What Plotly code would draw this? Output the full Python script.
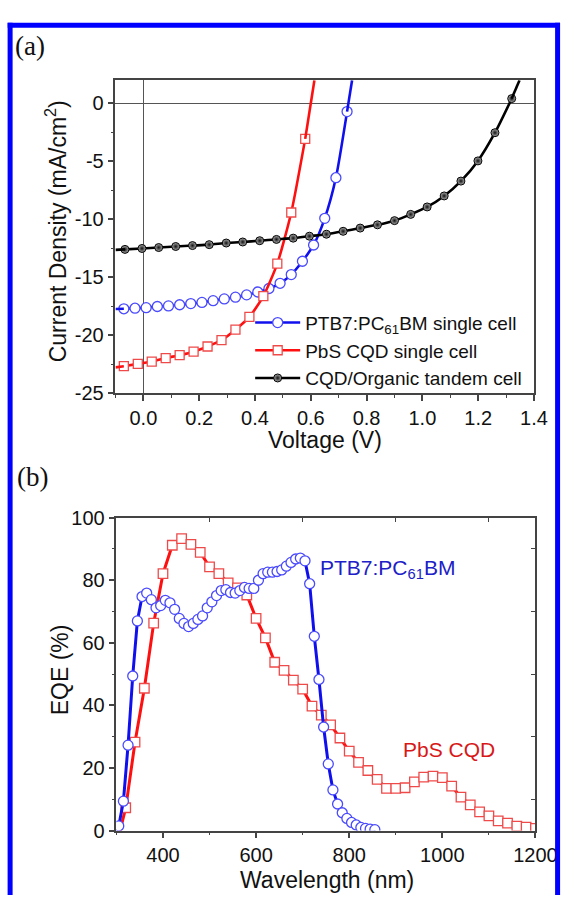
import plotly.graph_objects as go

# ---------------- Panel (a): J-V data ----------------
ptb7_v = [-0.07, -0.03, 0.01, 0.05, 0.09, 0.13, 0.17, 0.21, 0.25, 0.29, 0.33,
          0.37, 0.41, 0.45, 0.49, 0.53, 0.57, 0.61, 0.65, 0.69, 0.73]
ptb7_j = [-17.7, -17.65, -17.6, -17.5, -17.45, -17.35, -17.25, -17.15, -17.0, -16.85, -16.7,
          -16.5, -16.25, -15.95, -15.5, -14.75, -13.6, -12.2, -9.9, -6.4, -0.7]
ptb7_ext_v = [-0.1, -0.07, None, 0.73, 0.748]
ptb7_ext_j = [-17.72, -17.7, None, -0.7, 2.0]

pbs_v = [-0.07, -0.02, 0.03, 0.08, 0.13, 0.18, 0.23, 0.28, 0.33, 0.38, 0.43, 0.48, 0.53, 0.58]
pbs_j = [-22.65, -22.45, -22.25, -21.95, -21.7, -21.4, -20.95, -20.4, -19.5, -18.4, -16.6,
         -13.8, -9.4, -3.05]
pbs_ext_v = [-0.1, -0.07, None, 0.58, 0.613]
pbs_ext_j = [-22.75, -22.65, None, -3.05, 2.0]

tandem_v = [-0.066, -0.005, 0.055, 0.116, 0.176, 0.236, 0.297, 0.356, 0.417, 0.477, 0.537,
            0.595, 0.656, 0.716, 0.777, 0.839, 0.90, 0.958, 1.017, 1.078, 1.138, 1.199, 1.26, 1.32]
tandem_j = [-12.58, -12.5, -12.42, -12.33, -12.25, -12.17, -12.03, -11.94, -11.83, -11.72, -11.61,
            -11.44, -11.27, -11.02, -10.74, -10.46, -10.1, -9.56, -8.92, -7.97, -6.69, -4.95, -2.52, 0.42]
tandem_ext_v = [-0.1, -0.066, None, 1.32, 1.348]
tandem_ext_j = [-12.62, -12.58, None, 0.42, 2.0]

# ---------------- Panel (b): EQE data ----------------
eqe_ptb7_wl = [305 + 10 * i for i in range(56)]
eqe_ptb7 = [1.5, 9.4, 27.3, 49.4, 67.0, 74.8, 75.9, 73.8, 71.2, 71.9,
            73.6, 72.8, 70.7, 67.8, 66.2, 65.2, 66.2, 67.5, 68.6, 71.2,
            73.1, 75.1, 76.7, 77.0, 76.1, 75.9, 76.7, 77.7, 77.4, 77.4,
            80.0, 82.1, 82.6, 82.6, 82.8, 83.3, 84.5, 85.7, 86.8, 87.1,
            86.2, 78.9, 62.1, 48.3, 33.1, 21.3, 13.0, 8.5, 5.7, 3.9,
            2.6, 1.8, 1.0, 0.7, 0.5, 0.3]

eqe_pbs_wl = [320 + 20 * i for i in range(45)]
eqe_pbs = [7.3, 28.3, 45.5, 66.3, 82.1, 91.2, 93.3, 91.5, 88.9, 84.3,
           82.1, 79.2, 77.6, 75.3, 67.8, 61.6, 53.8, 51.2, 48.1, 45.2,
           39.8, 36.9, 33.8, 29.6, 25.4, 21.8, 19.2, 16.4, 13.5, 13.5,
           13.7, 15.6, 17.1, 17.4, 16.9, 14.2, 10.7, 8.2, 6.0, 4.7,
           3.1, 2.4, 1.4, 1.1, 0.7]
eqe_pbs_ext_wl = [308, 320]
eqe_pbs_ext = [0.0, 7.3]

# ---------------- Text ----------------
legend_names = ["PTB7:PC<sub>61</sub>BM single cell", "PbS CQD single cell", "CQD/Organic tandem cell"]
xa_ticks = [0.0, 0.2, 0.4, 0.6, 0.8, 1.0, 1.2, 1.4]
ya_ticks = [-25, -20, -15, -10, -5, 0]
xb_ticks = [400, 600, 800, 1000, 1200]
yb_ticks = [0, 20, 40, 60, 80, 100]
xb_top_minor = [500, 700, 900, 1100]
yb_right_minor = [10, 30, 50, 70, 90]

W, H = 582, 906
SANS = "Liberation Sans, Arial, sans-serif"
SERIF = "Liberation Serif, Times New Roman, serif"
AX = "#444444"
BLUE = "#1010ee"
BLUE_M = "#4a4aff"
RED = "#ff1010"
RED_M = "#ee4a4a"


def px(x):
    return x / W


def py(y):
    return 1 - y / H


fig = go.Figure()

# Panel (a)
fig.add_trace(go.Scatter(x=ptb7_v, y=ptb7_j, mode="lines+markers", name=legend_names[0],
                         line=dict(color=BLUE, width=2.6, shape="spline", smoothing=0.6),
                         marker=dict(symbol="circle", size=10, color="white",
                                     line=dict(color=BLUE_M, width=1.3)),
                         xaxis="x", yaxis="y"))
fig.add_trace(go.Scatter(x=pbs_v, y=pbs_j, mode="lines+markers", name=legend_names[1],
                         line=dict(color=RED, width=2.6, shape="spline", smoothing=0.6),
                         marker=dict(symbol="square", size=9, color="white",
                                     line=dict(color=RED_M, width=1.3)),
                         xaxis="x", yaxis="y"))
fig.add_trace(go.Scatter(x=tandem_v, y=tandem_j, mode="lines+markers", name=legend_names[2],
                         line=dict(color="black", width=2.6, shape="spline", smoothing=0.6),
                         marker=dict(symbol="circle", size=8, color="#b0b0b0",
                                     gradient=dict(type="radial", color="#111111"),
                                     line=dict(color="black", width=1)),
                         xaxis="x", yaxis="y"))
for xs, ys, c in [(ptb7_ext_v, ptb7_ext_j, BLUE), (pbs_ext_v, pbs_ext_j, RED),
                  (tandem_ext_v, tandem_ext_j, "black")]:
    fig.add_trace(go.Scatter(x=xs, y=ys, mode="lines", showlegend=False,
                             line=dict(color=c, width=2.6), xaxis="x", yaxis="y"))

# Panel (b)
fig.add_trace(go.Scatter(x=eqe_pbs_ext_wl, y=eqe_pbs_ext, mode="lines", showlegend=False,
                         line=dict(color=RED, width=3), xaxis="x2", yaxis="y2"))
fig.add_trace(go.Scatter(x=eqe_pbs_wl, y=eqe_pbs, mode="lines+markers", showlegend=False,
                         line=dict(color=RED, width=3),
                         marker=dict(symbol="square", size=9.5, color="white",
                                     line=dict(color=RED_M, width=1.3)),
                         xaxis="x2", yaxis="y2"))
fig.add_trace(go.Scatter(x=eqe_ptb7_wl, y=eqe_ptb7, mode="lines+markers", showlegend=False,
                         line=dict(color=BLUE, width=3),
                         marker=dict(symbol="circle", size=10, color="white",
                                     line=dict(color=BLUE_M, width=1.3)),
                         xaxis="x2", yaxis="y2"))
# empty trace to activate mirror-tick axes
fig.add_trace(go.Scatter(x=[None], y=[None], showlegend=False, xaxis="x3", yaxis="y3",
                         hoverinfo="skip", mode="markers"))

tickfont = dict(family=SANS, size=20, color="#111111")
common = dict(showgrid=False, showline=True, linecolor=AX, linewidth=1.5,
              ticks="outside", ticklen=6, tickwidth=1.5, tickcolor=AX, tickfont=tickfont)

fig.update_layout(
    width=W, height=H, autosize=False, margin=dict(l=0, r=0, t=0, b=0, pad=0),
    paper_bgcolor="white", plot_bgcolor="white",
    showlegend=True,
    xaxis=dict(domain=[px(120), px(555)], anchor="y", range=[-0.1, 1.4],
               tickvals=xa_ticks, ticktext=[f"{v:.1f}" for v in xa_ticks],
               minor=dict(dtick=0.1, tick0=0, ticklen=3, ticks="outside", tickcolor=AX, tickwidth=1.3),
               mirror=True, zeroline=True, zerolinecolor="#555555", zerolinewidth=1.3, **common),
    yaxis=dict(domain=[py(392), py(71)], anchor="x", range=[-25, 2],
               tickvals=ya_ticks, ticktext=[str(v) for v in ya_ticks],
               minor=dict(dtick=2.5, tick0=0, ticklen=3, ticks="outside", tickcolor=AX, tickwidth=1.3),
               mirror=True, zeroline=True, zerolinecolor="#555555", zerolinewidth=1.3, **common),
    xaxis2=dict(domain=[px(121), px(556.5)], anchor="y2", range=[300, 1200],
                tickvals=xb_ticks,
                minor=dict(dtick=100, tick0=300, ticklen=3, ticks="outside", tickcolor=AX, tickwidth=1.3),
                mirror=True, zeroline=False, **common),
    yaxis2=dict(domain=[py(840), py(519.3)], anchor="x2", range=[0, 100],
                tickvals=yb_ticks,
                minor=dict(dtick=10, tick0=0, ticklen=3, ticks="outside", tickcolor=AX, tickwidth=1.3),
                mirror=True, zeroline=False, **common),
    xaxis3=dict(domain=[px(121), px(556.5)], anchor="y3", overlaying="x2", side="top",
                range=[300, 1200], tickvals=xb_top_minor, showticklabels=False,
                ticks="inside", ticklen=4, tickwidth=1.3, tickcolor=AX,
                showline=False, showgrid=False, zeroline=False),
    yaxis3=dict(domain=[py(840), py(519.3)], anchor="x3", overlaying="y2", side="right",
                range=[0, 100], tickvals=yb_right_minor, showticklabels=False,
                ticks="inside", ticklen=4, tickwidth=1.3, tickcolor=AX,
                showline=False, showgrid=False, zeroline=False),
    legend=dict(x=px(260), y=py(300), xanchor="left", yanchor="top",
                bgcolor="rgba(0,0,0,0)", font=dict(family=SANS, size=19, color="#111111"),
                itemwidth=45, tracegroupgap=0, borderwidth=0),
)

ann = [
    dict(text="(a)", x=px(14), y=py(36), font=dict(family=SERIF, size=27, color="#111111")),
    dict(text="(b)", x=px(16), y=py(478), font=dict(family=SERIF, size=27, color="#111111")),
]
for a in ann:
    fig.add_annotation(xref="paper", yref="paper", xanchor="left", yanchor="middle",
                       showarrow=False, **a)

titles = [
    dict(text="Current Density (mA/cm<sup>2</sup>)", x=px(58), y=py(226), textangle=-90),
    dict(text="Voltage (V)", x=px(338), y=py(440), textangle=0),
    dict(text="EQE (%)", x=px(62), y=py(675), textangle=-90),
    dict(text="Wavelength (nm)", x=px(340), y=py(891), textangle=0),
]
for t in titles:
    fig.add_annotation(xref="paper", yref="paper", xanchor="center", yanchor="middle",
                       showarrow=False, font=dict(family=SANS, size=23, color="#111111"), **t)

fig.add_annotation(xref="paper", yref="paper", x=px(331), y=py(572), xanchor="left", yanchor="middle",
                   text="PTB7:PC<sub>61</sub>BM", showarrow=False,
                   font=dict(family=SANS, size=21, color="#2020c8"))
fig.add_annotation(xref="paper", yref="paper", x=px(417), y=py(757), xanchor="left", yanchor="middle",
                   text="PbS CQD", showarrow=False,
                   font=dict(family=SANS, size=21, color="#d81818"))

# blue outer frame (left, top, right edges; bottom runs off the page)
frame = dict(color="#0000ff", width=5)
for x0, y0, x1, y1 in [(10.5, 906, 10.5, 12.0), (8.0, 14.5, 582, 14.5), (579.5, 12.0, 579.5, 906)]:
    fig.add_shape(type="line", xref="paper", yref="paper",
                  x0=px(x0), y0=py(y0), x1=px(x1), y1=py(y1), line=frame, layer="above")

fig.write_html(
    "out.html",
    config={"responsive": False, "displayModeBar": False},
    post_script="document.documentElement.style.margin='0';document.documentElement.style.padding='0';"
                "document.body.style.margin='0';document.body.style.padding='0';"
                "document.body.style.overflow='hidden';",
)
